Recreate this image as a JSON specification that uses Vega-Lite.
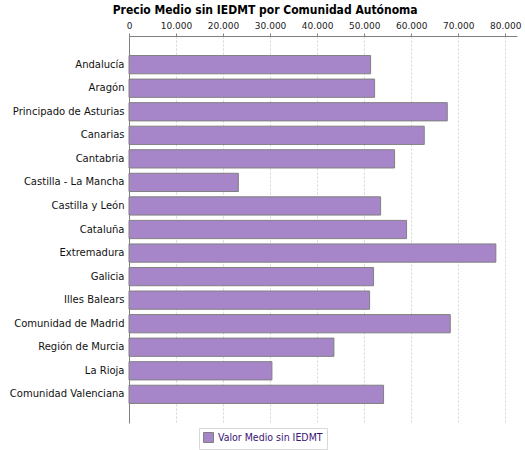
{
  "$schema": "https://vega.github.io/schema/vega-lite/v6.json",
  "width": 388,
  "height": 387,
  "autosize": "none",
  "padding": {"left": 129, "top": 36, "right": 8, "bottom": 27},
  "background": "white",
  "title": {
    "text": "Precio Medio sin IEDMT por Comunidad Autónoma",
    "font": "DejaVu Sans Condensed, sans-serif",
    "fontSize": 12,
    "fontWeight": "bold",
    "color": "#000000",
    "frame": "bounds",
    "anchor": "middle",
    "offset": 4
  },
  "data": {
    "values": [
      {"comunidad": "Andalucía", "valor": 51370, "serie": "Valor Medio sin IEDMT"},
      {"comunidad": "Aragón", "valor": 52220, "serie": "Valor Medio sin IEDMT"},
      {"comunidad": "Principado de Asturias", "valor": 67670, "serie": "Valor Medio sin IEDMT"},
      {"comunidad": "Canarias", "valor": 62780, "serie": "Valor Medio sin IEDMT"},
      {"comunidad": "Cantabria", "valor": 56470, "serie": "Valor Medio sin IEDMT"},
      {"comunidad": "Castilla - La Mancha", "valor": 23250, "serie": "Valor Medio sin IEDMT"},
      {"comunidad": "Castilla y León", "valor": 53500, "serie": "Valor Medio sin IEDMT"},
      {"comunidad": "Cataluña", "valor": 59020, "serie": "Valor Medio sin IEDMT"},
      {"comunidad": "Extremadura", "valor": 78000, "serie": "Valor Medio sin IEDMT"},
      {"comunidad": "Galicia", "valor": 52000, "serie": "Valor Medio sin IEDMT"},
      {"comunidad": "Illes Balears", "valor": 51160, "serie": "Valor Medio sin IEDMT"},
      {"comunidad": "Comunidad de Madrid", "valor": 68310, "serie": "Valor Medio sin IEDMT"},
      {"comunidad": "Región de Murcia", "valor": 43570, "serie": "Valor Medio sin IEDMT"},
      {"comunidad": "La Rioja", "valor": 30390, "serie": "Valor Medio sin IEDMT"},
      {"comunidad": "Comunidad Valenciana", "valor": 54130, "serie": "Valor Medio sin IEDMT"}
    ]
  },
  "mark": {"type": "bar", "stroke": "#808080", "strokeWidth": 1},
  "encoding": {
    "y": {
      "field": "comunidad",
      "type": "nominal",
      "sort": null,
      "scale": {"paddingInner": 0.225, "paddingOuter": 0.83},
      "axis": {
        "title": null,
        "ticks": false,
        "domainColor": "#808080",
        "labelFont": "DejaVu Sans",
        "labelFontSize": 10,
        "labelColor": "#111111",
        "labelPadding": 5,
        "grid": false
      }
    },
    "x": {
      "field": "valor",
      "type": "quantitative",
      "scale": {"domain": [0, 82500], "nice": false},
      "axis": {
        "orient": "top",
        "title": null,
        "values": [0, 10000, 20000, 30000, 40000, 50000, 60000, 70000, 80000],
        "labelExpr": "replace(format(datum.value, ','), ',', '.')",
        "labelFont": "DejaVu Sans",
        "labelFontSize": 9,
        "labelColor": "#222222",
        "labelPadding": 3,
        "domainColor": "#808080",
        "tickColor": "#808080",
        "tickSize": 3,
        "grid": true,
        "gridColor": "#d4d4d4",
        "gridDash": [2, 2],
        "labelFlush": false
      }
    },
    "color": {
      "field": "serie",
      "type": "nominal",
      "scale": {"range": ["#a686c8"]},
      "legend": {
        "title": null,
        "orient": "none",
        "legendX": 70,
        "legendY": 392,
        "strokeColor": "#d8d8d8",
        "padding": 4,
        "symbolType": "square",
        "symbolSize": 100,
        "symbolStrokeColor": "#808080",
        "symbolStrokeWidth": 1,
        "symbolOpacity": 1,
        "labelFont": "DejaVu Sans Condensed, sans-serif",
        "labelFontSize": 10.5,
        "labelColor": "#3c1478",
        "labelOffset": 4
      }
    }
  },
  "config": {"view": {"stroke": null}}
}
